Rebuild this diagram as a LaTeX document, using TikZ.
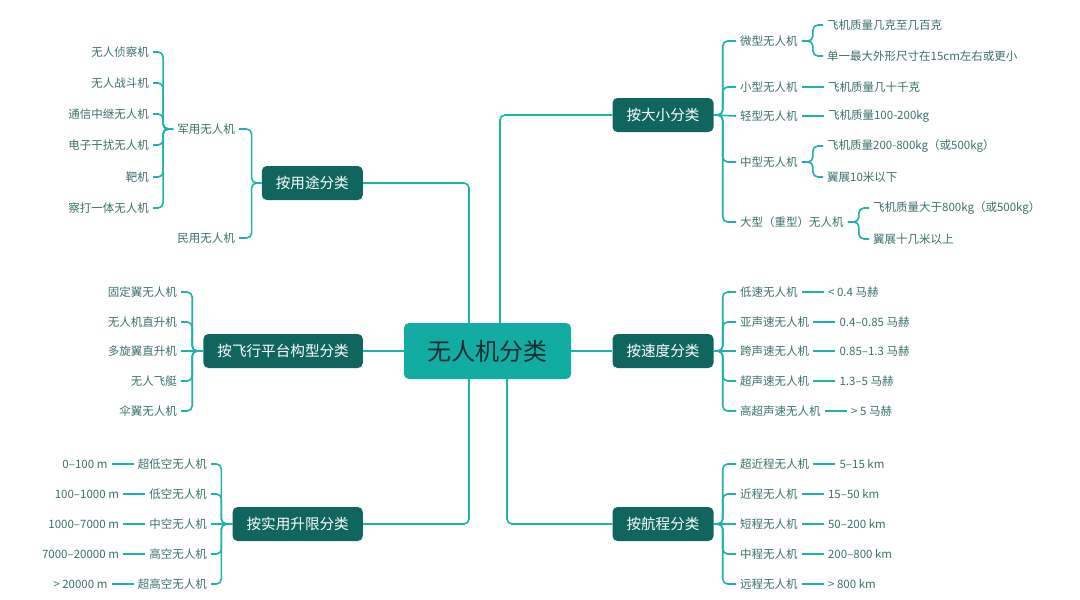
\documentclass[tikz,border=0pt]{standalone}
\usepackage{fontspec}
\setmainfont{Noto Sans CJK SC}
\usepackage{tikz}
\usetikzlibrary{positioning}

\definecolor{linec}{RGB}{30,178,168}
\definecolor{rootc}{RGB}{18,172,162}
\definecolor{roottext}{RGB}{28,45,45}
\definecolor{catc}{RGB}{16,102,95}
\definecolor{leafc}{RGB}{60,112,107}

\tikzset{
    root/.style={fill=rootc, text=roottext, rounded corners=5pt,
        minimum width=167pt, minimum height=56pt,
        font=\fontsize{24}{26}\selectfont},
    cat/.style={fill=catc, text=white, rounded corners=5pt,
        inner xsep=14pt, minimum height=34pt,
        font=\fontsize{14.6}{16}\selectfont},
    leaf/.style={text=leafc, inner xsep=4pt, inner ysep=2pt,
        font=\fontsize{11.5}{13}\selectfont},
    link/.style={draw=linec, line width=1.6pt, rounded corners=5pt}
}

\begin{document}
\begin{tikzpicture}[x=1pt, y=-1pt]
\useasboundingbox (0,0) rectangle (1080,600);

% Root and categories
\node[root] (root) at (487.5,351) {无人机分类};
\node[cat, anchor=east] (yongtu) at (363,183) {按用途分类};
\node[cat] (daxiao) at (663,115) {按大小分类};
\node[cat, anchor=east] (pingtai) at (363,351) {按飞行平台构型分类};
\node[cat] (sudu) at (663,351) {按速度分类};
\node[cat, anchor=east] (shengxian) at (363,524) {按实用升限分类};
\node[cat] (hangcheng) at (663,524) {按航程分类};

\draw[link] ([xshift=-18.5pt]root.north) |- (yongtu.east);
\draw[link] ([xshift=12.5pt]root.north) |- (daxiao.west);
\draw[link] (root.west) -- (pingtai.east);
\draw[link] (root.east) -- (sudu.west);
\draw[link] ([xshift=-18.5pt]root.south) |- (shengxian.east);
\draw[link] ([xshift=19.5pt]root.south) |- (hangcheng.west);

% By use
\node[leaf, anchor=east] (jy) at (239,129) {军用无人机};
\node[leaf, anchor=east] (my) at (239,238) {民用无人机};
\draw[link] (yongtu.west) -- ++(-10,0) |- (jy.east);
\draw[link] (yongtu.west) -- ++(-10,0) |- (my.east);

\node[leaf, anchor=east] (jy1) at (153,52) {无人侦察机};
\node[leaf, anchor=east] (jy2) at (153,83) {无人战斗机};
\node[leaf, anchor=east] (jy3) at (153,114) {通信中继无人机};
\node[leaf, anchor=east] (jy4) at (153,145) {电子干扰无人机};
\node[leaf, anchor=east] (jy5) at (153,177) {靶机};
\node[leaf, anchor=east] (jy6) at (153,208) {察打一体无人机};
\draw[link] (jy.west) -- ++(-10,0) |- (jy1.east);
\draw[link] (jy.west) -- ++(-10,0) |- (jy2.east);
\draw[link] (jy.west) -- ++(-10,0) |- (jy3.east);
\draw[link] (jy.west) -- ++(-10,0) |- (jy4.east);
\draw[link] (jy.west) -- ++(-10,0) |- (jy5.east);
\draw[link] (jy.west) -- ++(-10,0) |- (jy6.east);

% By size
\node[leaf, anchor=west] (dx1) at (736,41) {微型无人机};
\node[leaf, anchor=west] (dx2) at (736,87) {小型无人机};
\node[leaf, anchor=west] (dx3) at (736,116) {轻型无人机};
\node[leaf, anchor=west] (dx4) at (736,162) {中型无人机};
\node[leaf, anchor=west] (dx5) at (736,222) {大型（重型）无人机};
\draw[link] (daxiao.east) -- ++(9,0) |- (dx1.west);
\draw[link] (daxiao.east) -- ++(9,0) |- (dx2.west);
\draw[link] (daxiao.east) -- (dx3.west);
\draw[link] (daxiao.east) -- ++(9,0) |- (dx4.west);
\draw[link] (daxiao.east) -- ++(9,0) |- (dx5.west);

\node[leaf, anchor=west] (dx1a) at (823,25) {飞机质量几克至几百克};
\node[leaf, anchor=west] (dx1b) at (823,56) {单一最大外形尺寸在15cm左右或更小};
\draw[link] (dx1.east) -- ++(11,0) |- (dx1a.west);
\draw[link] (dx1.east) -- ++(11,0) |- (dx1b.west);
\node[leaf, right=22pt of dx2] (dx2a) {飞机质量几十千克};
\draw[link] (dx2.east) -- (dx2a.west);
\node[leaf, right=22pt of dx3] (dx3a) {飞机质量100-200kg};
\draw[link] (dx3.east) -- (dx3a.west);
\node[leaf, anchor=west] (dx4a) at (823,146) {飞机质量200-800kg（或500kg）};
\node[leaf, anchor=west] (dx4b) at (823,177) {翼展10米以下};
\draw[link] (dx4.east) -- ++(11,0) |- (dx4a.west);
\draw[link] (dx4.east) -- ++(11,0) |- (dx4b.west);
\node[leaf, anchor=west] (dx5a) at (869,208) {飞机质量大于800kg（或500kg）};
\node[leaf, anchor=west] (dx5b) at (869,239) {翼展十几米以上};
\draw[link] (dx5.east) -- ++(11,0) |- (dx5a.west);
\draw[link] (dx5.east) -- ++(11,0) |- (dx5b.west);

% By platform
\node[leaf, anchor=east] (pt1) at (181,292) {固定翼无人机};
\node[leaf, anchor=east] (pt2) at (181,322) {无人机直升机};
\node[leaf, anchor=east] (pt3) at (181,351) {多旋翼直升机};
\node[leaf, anchor=east] (pt4) at (181,381) {无人飞艇};
\node[leaf, anchor=east] (pt5) at (181,411) {伞翼无人机};
\draw[link] (pingtai.west) -- ++(-11,0) |- (pt1.east);
\draw[link] (pingtai.west) -- ++(-11,0) |- (pt2.east);
\draw[link] (pingtai.west) -- (pt3.east);
\draw[link] (pingtai.west) -- ++(-11,0) |- (pt4.east);
\draw[link] (pingtai.west) -- ++(-11,0) |- (pt5.east);

% By speed
\node[leaf, anchor=west] (sd1) at (736,292) {低速无人机};
\node[leaf, anchor=west] (sd2) at (736,322) {亚声速无人机};
\node[leaf, anchor=west] (sd3) at (736,351) {跨声速无人机};
\node[leaf, anchor=west] (sd4) at (736,381) {超声速无人机};
\node[leaf, anchor=west] (sd5) at (736,411) {高超声速无人机};
\draw[link] (sudu.east) -- ++(9,0) |- (sd1.west);
\draw[link] (sudu.east) -- ++(9,0) |- (sd2.west);
\draw[link] (sudu.east) -- (sd3.west);
\draw[link] (sudu.east) -- ++(9,0) |- (sd4.west);
\draw[link] (sudu.east) -- ++(9,0) |- (sd5.west);
\node[leaf, right=22pt of sd1] (sd1a) {< 0.4 马赫};
\node[leaf, right=22pt of sd2] (sd2a) {0.4–0.85 马赫};
\node[leaf, right=22pt of sd3] (sd3a) {0.85–1.3 马赫};
\node[leaf, right=22pt of sd4] (sd4a) {1.3–5 马赫};
\node[leaf, right=22pt of sd5] (sd5a) {> 5 马赫};
\draw[link] (sd1.east) -- (sd1a.west);
\draw[link] (sd2.east) -- (sd2a.west);
\draw[link] (sd3.east) -- (sd3a.west);
\draw[link] (sd4.east) -- (sd4a.west);
\draw[link] (sd5.east) -- (sd5a.west);

% By ceiling
\node[leaf, anchor=east] (sx1) at (211,464) {超低空无人机};
\node[leaf, anchor=east] (sx2) at (211,494) {低空无人机};
\node[leaf, anchor=east] (sx3) at (211,524) {中空无人机};
\node[leaf, anchor=east] (sx4) at (211,554) {高空无人机};
\node[leaf, anchor=east] (sx5) at (211,584) {超高空无人机};
\draw[link] (shengxian.west) -- ++(-11,0) |- (sx1.east);
\draw[link] (shengxian.west) -- ++(-11,0) |- (sx2.east);
\draw[link] (shengxian.west) -- (sx3.east);
\draw[link] (shengxian.west) -- ++(-11,0) |- (sx4.east);
\draw[link] (shengxian.west) -- ++(-11,0) |- (sx5.east);
\node[leaf, left=22pt of sx1] (sx1a) {0–100 m};
\node[leaf, left=22pt of sx2] (sx2a) {100–1000 m};
\node[leaf, left=22pt of sx3] (sx3a) {1000–7000 m};
\node[leaf, left=22pt of sx4] (sx4a) {7000–20000 m};
\node[leaf, left=22pt of sx5] (sx5a) {> 20000 m};
\draw[link] (sx1.west) -- (sx1a.east);
\draw[link] (sx2.west) -- (sx2a.east);
\draw[link] (sx3.west) -- (sx3a.east);
\draw[link] (sx4.west) -- (sx4a.east);
\draw[link] (sx5.west) -- (sx5a.east);

% By range
\node[leaf, anchor=west] (hc1) at (736,464) {超近程无人机};
\node[leaf, anchor=west] (hc2) at (736,494) {近程无人机};
\node[leaf, anchor=west] (hc3) at (736,524) {短程无人机};
\node[leaf, anchor=west] (hc4) at (736,554) {中程无人机};
\node[leaf, anchor=west] (hc5) at (736,584) {远程无人机};
\draw[link] (hangcheng.east) -- ++(9,0) |- (hc1.west);
\draw[link] (hangcheng.east) -- ++(9,0) |- (hc2.west);
\draw[link] (hangcheng.east) -- (hc3.west);
\draw[link] (hangcheng.east) -- ++(9,0) |- (hc4.west);
\draw[link] (hangcheng.east) -- ++(9,0) |- (hc5.west);
\node[leaf, right=22pt of hc1] (hc1a) {5–15 km};
\node[leaf, right=22pt of hc2] (hc2a) {15–50 km};
\node[leaf, right=22pt of hc3] (hc3a) {50–200 km};
\node[leaf, right=22pt of hc4] (hc4a) {200–800 km};
\node[leaf, right=22pt of hc5] (hc5a) {> 800 km};
\draw[link] (hc1.east) -- (hc1a.west);
\draw[link] (hc2.east) -- (hc2a.west);
\draw[link] (hc3.east) -- (hc3a.west);
\draw[link] (hc4.east) -- (hc4a.west);
\draw[link] (hc5.east) -- (hc5a.west);
\end{tikzpicture}
\end{document}
